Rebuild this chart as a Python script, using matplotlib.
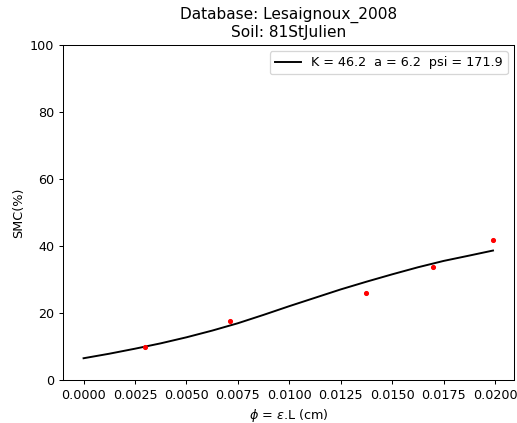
import numpy as np
import matplotlib.pyplot as plt

# measured points
phi = [0.00301, 0.00713, 0.01373, 0.0170, 0.01992]
smc = [9.9, 17.7, 25.9, 33.7, 41.8]

# fitted curve
phi_fit = [0.0, 0.00125, 0.0025, 0.00375, 0.005, 0.00625, 0.0075, 0.00875,
           0.01, 0.01125, 0.0125, 0.01375, 0.015, 0.01625, 0.0175, 0.01875,
           0.0199]
smc_fit = [6.45, 7.8, 9.3, 10.9, 12.7, 14.7, 16.9, 19.4, 22.0, 24.5, 27.0,
           29.3, 31.5, 33.6, 35.5, 37.1, 38.6]

dpi = 92
fig = plt.figure(figsize=(517 / dpi, 423 / dpi), dpi=dpi)
ax = fig.add_axes([0.122, 0.102, 0.872, 0.792])

ax.plot(phi_fit, smc_fit, 'k-', label='K = 46.2  a = 6.2  psi = 171.9')
ax.plot(phi, smc, 'r.')

ax.set_ylim(0, 100)
ax.set_xlabel(r'$\phi$ = $\epsilon$.L (cm)')
ax.set_ylabel('SMC(%)')
ax.set_title('Database: Lesaignoux_2008\nSoil: 81StJulien')
ax.legend(loc='upper right')

fig.savefig('out.png', dpi=dpi)
